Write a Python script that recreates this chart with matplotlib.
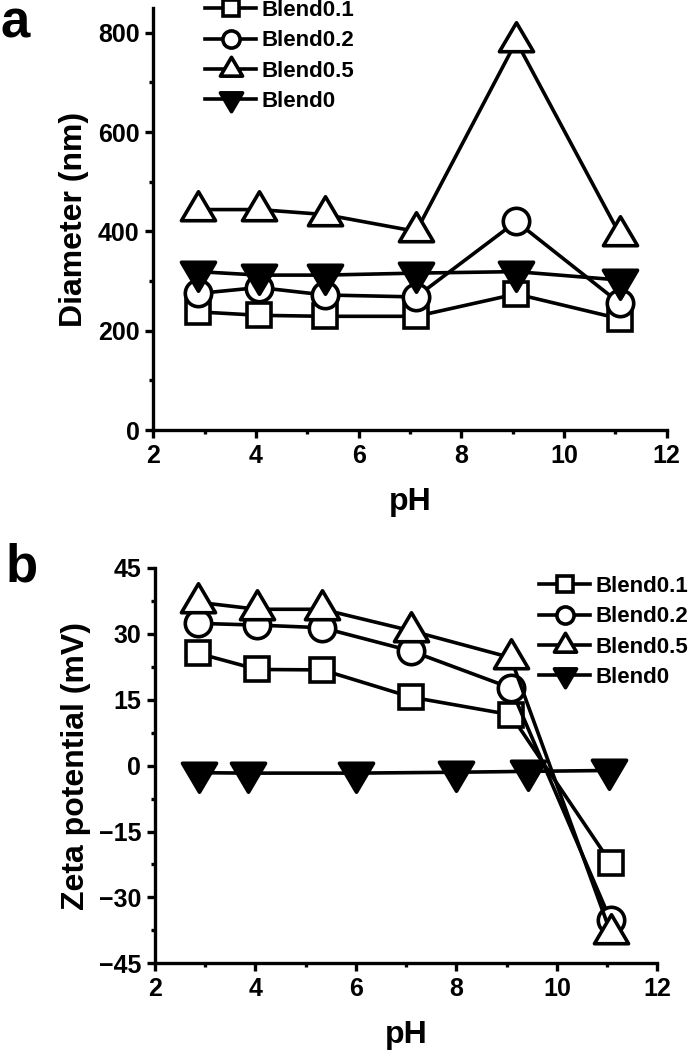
"""Particle size and zeta potential of the blends versus pH."""

import matplotlib
matplotlib.use("Agg")
import matplotlib.pyplot as plt
from matplotlib.markers import MarkerStyle
from matplotlib.path import Path
from matplotlib.ticker import MultipleLocator

W, H, DPI = 699, 1050, 100

plt.rcParams['font.family'] = ['Liberation Sans', 'DejaVu Sans']
plt.rcParams['font.weight'] = 'bold'

# ---- data -------------------------------------------------------------
labels = ["Blend0.1", "Blend0.2", "Blend0.5", "Blend0"]

ph_a = [2.87, 4.06, 5.34, 7.12, 9.07, 11.09]
diam_01 = [238, 231, 229, 229, 274, 224]
diam_02 = [275, 287, 272, 268, 420, 255]
diam_05 = [444, 444, 434, 400, 783, 393]
diam_0 = [319, 312, 312, 316, 319, 302]

ph_b = [2.85, 4.04, 5.33, 7.10, 9.08, 11.07]
ph_b0 = [2.87, 3.85, 6.01, 7.99, 9.43, 11.03]
zeta_01 = [25.6, 21.9, 21.8, 15.6, 11.6, -22.1]
zeta_02 = [32.4, 32.0, 31.4, 26.1, 17.7, -35.2]
zeta_05 = [37.2, 35.6, 35.6, 30.7, 24.6, -38.0]
zeta_0 = [-1.6, -1.7, -1.7, -1.5, -1.3, -1.1]

# ---- marker shapes (triangles centred on their centroid) --------------
tri_up = MarkerStyle(Path([(0, 1), (-0.91, -0.545), (0.91, -0.545), (0, 1)], closed=True),
                     joinstyle='miter')
tri_dn = MarkerStyle(Path([(0, -1), (-0.91, 0.545), (0.91, 0.545), (0, -1)], closed=True),
                     joinstyle='miter')

STYLES = [
    dict(marker='s', ms=17.5, mfc='white'),
    dict(marker='o', ms=19, mfc='white'),
    dict(marker=tri_up, ms=27, mfc='white'),
    dict(marker=tri_dn, ms=27, mfc='black'),
]
LW = 2.6


def style_axes(ax, ylim, ymajor, yminor):
    """Origin-like axes: left/bottom spines, outward ticks."""
    for side in ('top', 'right'):
        ax.spines[side].set_visible(False)
    for side in ('left', 'bottom'):
        ax.spines[side].set_linewidth(2.4)
    ax.set_xlim(2, 12)
    ax.set_ylim(*ylim)
    ax.xaxis.set_major_locator(MultipleLocator(2))
    ax.xaxis.set_minor_locator(MultipleLocator(1))
    ax.yaxis.set_major_locator(MultipleLocator(ymajor))
    ax.yaxis.set_minor_locator(MultipleLocator(yminor))
    ax.tick_params(which='major', direction='out', length=5.5, width=2.4,
                   labelsize=18, pad=4.5)
    ax.tick_params(which='minor', direction='out', length=3, width=2.4)
    for t in ax.get_xticklabels() + ax.get_yticklabels():
        t.set_fontweight('bold')
    ax.set_xlabel("pH", fontsize=23, fontweight='bold')


def plot_series(ax, xs, ys):
    for x, y, lab, st in zip(xs, ys, labels, STYLES):
        ax.plot(x, y, color='black', lw=LW, mec='black', mew=LW, label=lab,
                clip_on=False, **st)


def add_legend(ax, x_px, y_px):
    ax.legend(loc='upper left', bbox_to_anchor=(x_px / W, 1 - y_px / H),
              bbox_transform=fig.transFigure, frameon=False,
              borderpad=0, borderaxespad=0, labelspacing=0.42, handlelength=2.3,
              handletextpad=0.25, markerscale=0.65,
              prop=dict(weight='bold', size=16))


fig = plt.figure(figsize=(W / DPI, H / DPI), dpi=DPI)

# panel a
ax1 = fig.add_axes([153.3 / W, 1 - 430 / H, 513.4 / W, 422 / H])
plot_series(ax1, [ph_a] * 4, [diam_01, diam_02, diam_05, diam_0])
style_axes(ax1, (0, 850), 200, 100)
ax1.set_ylabel("Diameter (nm)", fontsize=23, fontweight='bold')
ax1.yaxis.set_label_coords(-0.125, 0.5)
ax1.xaxis.set_label_coords(0.5, -0.135)
add_legend(ax1, 205, 0)

# panel b
ax2 = fig.add_axes([155 / W, 1 - 963.3 / H, 502.3 / W, 395.3 / H])
plot_series(ax2, [ph_b, ph_b, ph_b, ph_b0], [zeta_01, zeta_02, zeta_05, zeta_0])
style_axes(ax2, (-45, 45), 15, 7.5)
ax2.set_ylabel("Zeta potential (mV)", fontsize=23, fontweight='bold')
ax2.yaxis.set_label_coords(-0.127, 0.5)
ax2.xaxis.set_label_coords(0.5, -0.143)
add_legend(ax2, 539, 576)

fig.text(1 / W, 1 - 38 / H, "a", fontsize=38, fontweight='bold', ha='left', va='baseline')
fig.text(6 / W, 1 - 581 / H, "b", fontsize=38, fontweight='bold', ha='left', va='baseline')

fig.savefig("out.png", dpi=DPI)
